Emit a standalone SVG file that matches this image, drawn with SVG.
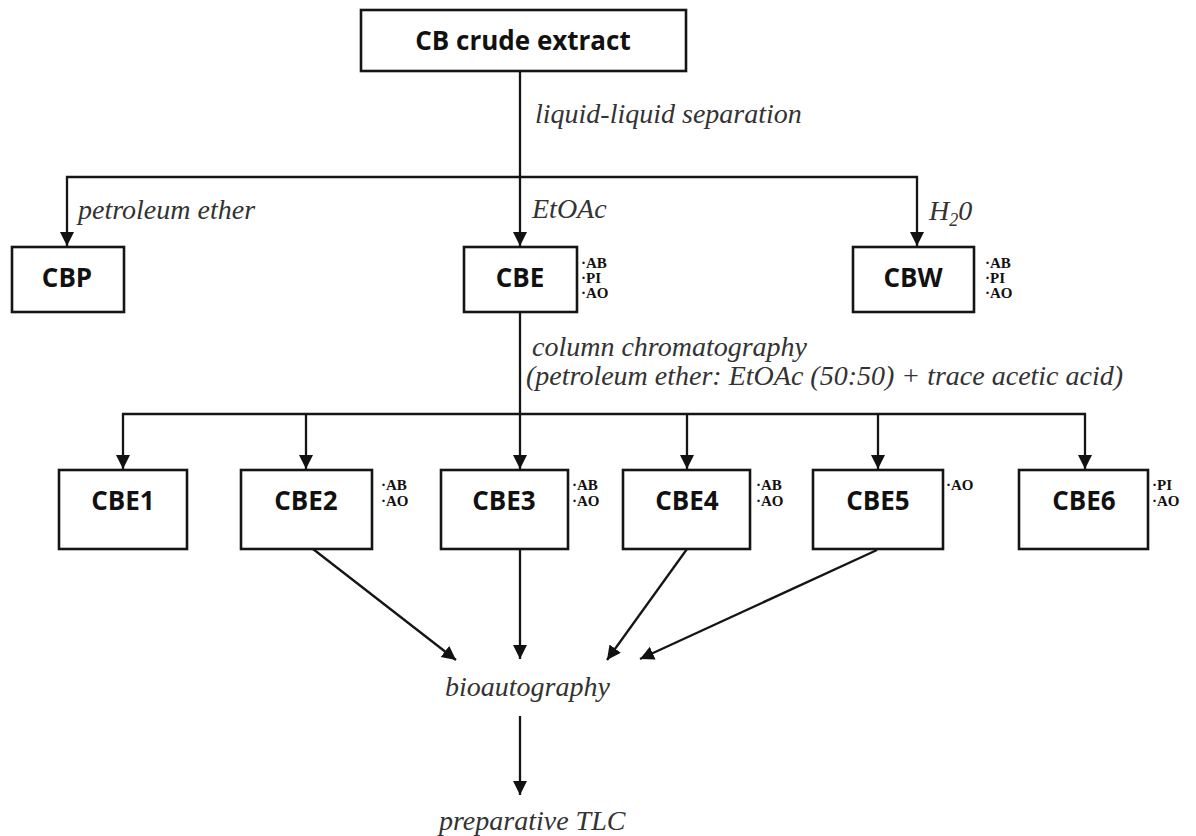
<svg xmlns="http://www.w3.org/2000/svg" width="1196" height="836" viewBox="0 0 1196 836">
<style>
.box{fill:#fff;stroke:#151515;stroke-width:2.6}
.lbl{font-family:"Open Sans","Liberation Sans",sans-serif;font-weight:bold;font-size:26px;fill:#111;text-anchor:middle}
.it{font-family:"Liberation Serif",serif;font-style:italic;font-size:28px;fill:#333}
.act{font-family:"Liberation Serif",serif;font-weight:bold;font-size:15px;fill:#111}
.con{fill:none;stroke:#151515;stroke-width:2.3;stroke-linejoin:miter}
</style>
<defs>
<marker id="ah" markerUnits="userSpaceOnUse" markerWidth="15" markerHeight="15" refX="14" refY="7" orient="auto">
<path d="M0,0 L14,7 L0,14 z" fill="#111"/>
</marker>
</defs>
<rect width="1196" height="836" fill="#fff"/>
<g id="connectors">
<path class="con" d="M520,71 V177"/>
<path class="con" d="M520,177 H67 V246" marker-end="url(#ah)"/>
<path class="con" d="M520,177 V246" marker-end="url(#ah)"/>
<path class="con" d="M520,177 H917 V246" marker-end="url(#ah)"/>
<path class="con" d="M520,312 V414"/>
<path class="con" d="M520,414 H123 V469" marker-end="url(#ah)"/>
<path class="con" d="M306,414 V469" marker-end="url(#ah)"/>
<path class="con" d="M520,414 V469" marker-end="url(#ah)"/>
<path class="con" d="M520,414 H1085 V469" marker-end="url(#ah)"/>
<path class="con" d="M687,414 V469" marker-end="url(#ah)"/>
<path class="con" d="M878,414 V469" marker-end="url(#ah)"/>
<path class="con" d="M313,549 L456,660" marker-end="url(#ah)"/>
<path class="con" d="M520,549 V659" marker-end="url(#ah)"/>
<path class="con" d="M687,549 L607,660" marker-end="url(#ah)"/>
<path class="con" d="M877,550 L640,659" marker-end="url(#ah)"/>
<path class="con" d="M520,716 V795" marker-end="url(#ah)"/>
<text class="it" x="535" y="123">liquid-liquid separation</text>
<text class="it" x="78" y="219">petroleum ether</text>
<text class="it" x="532" y="218">EtOAc</text>
<text class="it" x="929" y="220">H<tspan font-size="18" dy="6">2</tspan><tspan dy="-6">0</tspan></text>
<text class="it" x="532" y="356">column chromatography</text>
<text class="it" x="526" y="385">(petroleum ether: EtOAc (50:50) + trace acetic acid)</text>
<text class="it" x="445" y="696">bioautography</text>
<text class="it" x="439" y="830">preparative TLC</text>
</g>
<g id="crude">
<rect class="box" x="361" y="10" width="325" height="61"/>
<text class="lbl" x="523" y="50">CB crude extract</text>
</g>
<g id="CBP">
<rect class="box" x="12" y="247" width="112" height="65"/>
<text class="lbl" x="67" y="287">CBP</text>
</g>
<g id="CBE">
<rect class="box" x="464" y="247" width="113" height="65"/>
<text class="lbl" x="520" y="287">CBE</text>
<text class="act" x="581" y="268">·AB</text>
<text class="act" x="581" y="283">·PI</text>
<text class="act" x="581" y="298">·AO</text>
</g>
<g id="CBW">
<rect class="box" x="853" y="247" width="121" height="65"/>
<text class="lbl" x="913" y="287">CBW</text>
<text class="act" x="985" y="268">·AB</text>
<text class="act" x="985" y="283">·PI</text>
<text class="act" x="985" y="298">·AO</text>
</g>
<g id="CBE1">
<rect class="box" x="59" y="470" width="128" height="79"/>
<text class="lbl" x="123" y="510">CBE1</text>
</g>
<g id="CBE2">
<rect class="box" x="241" y="470" width="131" height="79"/>
<text class="lbl" x="306" y="510">CBE2</text>
<text class="act" x="381" y="490">·AB</text>
<text class="act" x="381" y="506">·AO</text>
</g>
<g id="CBE3">
<rect class="box" x="441" y="470" width="127" height="79"/>
<text class="lbl" x="504" y="510">CBE3</text>
<text class="act" x="572" y="490">·AB</text>
<text class="act" x="572" y="506">·AO</text>
</g>
<g id="CBE4">
<rect class="box" x="623" y="470" width="127" height="79"/>
<text class="lbl" x="687" y="510">CBE4</text>
<text class="act" x="756" y="490">·AB</text>
<text class="act" x="756" y="506">·AO</text>
</g>
<g id="CBE5">
<rect class="box" x="813" y="470" width="130" height="79"/>
<text class="lbl" x="878" y="510">CBE5</text>
<text class="act" x="946" y="490">·AO</text>
</g>
<g id="CBE6">
<rect class="box" x="1019" y="470" width="129" height="79"/>
<text class="lbl" x="1084" y="510">CBE6</text>
<text class="act" x="1152" y="490">·PI</text>
<text class="act" x="1152" y="506">·AO</text>
</g>
</svg>
